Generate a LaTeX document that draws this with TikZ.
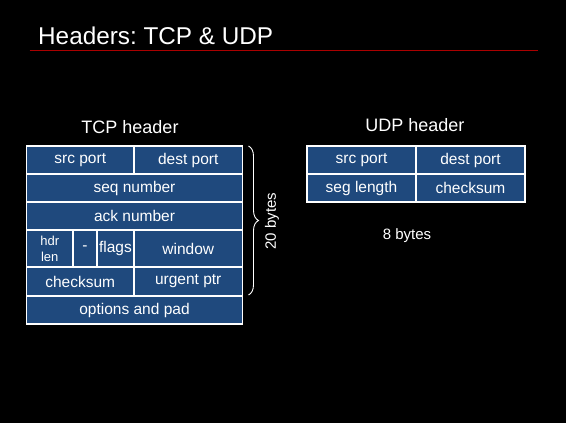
\documentclass[tikz,border=0pt]{standalone}
\usepackage{fontspec}
\setmainfont{Liberation Sans}
\usetikzlibrary{decorations.pathreplacing}
\definecolor{cellblue}{RGB}{31,73,125}
\definecolor{rulered}{RGB}{170,0,0}
\frenchspacing
\begin{document}
\begin{tikzpicture}[x=1pt,y=-1pt,
  cell/.style={draw=white, line width=1.2pt, fill=cellblue, text=white,
    inner sep=0pt, font=\fontsize{15.5}{17}\selectfont, align=center},
  lbl/.style={text=white, inner sep=0pt, anchor=base}]
  % page background
  \fill[black] (0,0) rectangle (566,423);
  \useasboundingbox (0,0) rectangle (566,423);

  % title and rule
  \node[lbl, anchor=base west, font=\fontsize{24.3}{28}\selectfont] (title) at (38,45) {Headers: TCP \& UDP};
  \coordinate (ruleL) at (29.5,50.5);
  \coordinate (ruleR) at (538,50.5);
  \draw[rulered, line width=1.4pt] (ruleL) -- (ruleR);

  % TCP header
  \node[lbl, font=\fontsize{18}{20}\selectfont] (tcptitle) at (130,133) {TCP header};
  \node[cell, minimum width=107.5pt, minimum height=28pt] (tsrc) at (80.25,160) {src port};
  \node[cell, minimum width=108.5pt, minimum height=28pt] (tdst) at (188.25,160) {dest port};
  \node[cell, minimum width=216pt, minimum height=28pt] (tseq) at (134.5,188) {seq number};
  \node[cell, minimum width=216pt, minimum height=28pt] (tack) at (134.5,216) {ack number};
  \node[cell, minimum width=46.5pt, minimum height=37pt, font=\fontsize{13}{16}\selectfont] (thdr) at (49.75,248.5) {hdr\\len};
  \node[cell, minimum width=24pt, minimum height=37pt] (tres) at (85,248.5) {-};
  \node[cell, minimum width=37pt, minimum height=37pt] (tflg) at (115.5,248.5) {flags};
  \node[cell, minimum width=108.5pt, minimum height=37pt] (twin) at (188.25,248.5) {window};
  \node[cell, minimum width=107.5pt, minimum height=29pt] (tchk) at (80.25,281.5) {checksum};
  \node[cell, minimum width=108.5pt, minimum height=29pt] (turg) at (188.25,281.5) {urgent ptr};
  \node[cell, minimum width=216pt, minimum height=28pt] (topt) at (134.5,310) {options and pad};

  % brace over the fixed 20 bytes
  \coordinate (brT) at (248.5,146);
  \coordinate (brB) at (248.5,295);
  \draw[white, line width=0.9pt, decorate, decoration={brace, amplitude=10pt}] (brT) -- (brB);
  \node[lbl, anchor=center, rotate=90, font=\fontsize{15}{17}\selectfont] (tcpbytes) at (272,221) {20 bytes};

  % UDP header
  \node[lbl, font=\fontsize{18}{20}\selectfont] (udptitle) at (415,131) {UDP header};
  \node[cell, minimum width=109pt, minimum height=28pt] (usrc) at (361.5,160) {src port};
  \node[cell, minimum width=109pt, minimum height=28pt] (udst) at (470.5,160) {dest port};
  \node[cell, minimum width=109pt, minimum height=28pt] (ulen) at (361.5,188) {seg length};
  \node[cell, minimum width=109pt, minimum height=28pt] (uchk) at (470.5,188) {checksum};
  \node[lbl, font=\fontsize{15}{17}\selectfont] (udpbytes) at (407,239) {8 bytes};
\end{tikzpicture}
\end{document}
